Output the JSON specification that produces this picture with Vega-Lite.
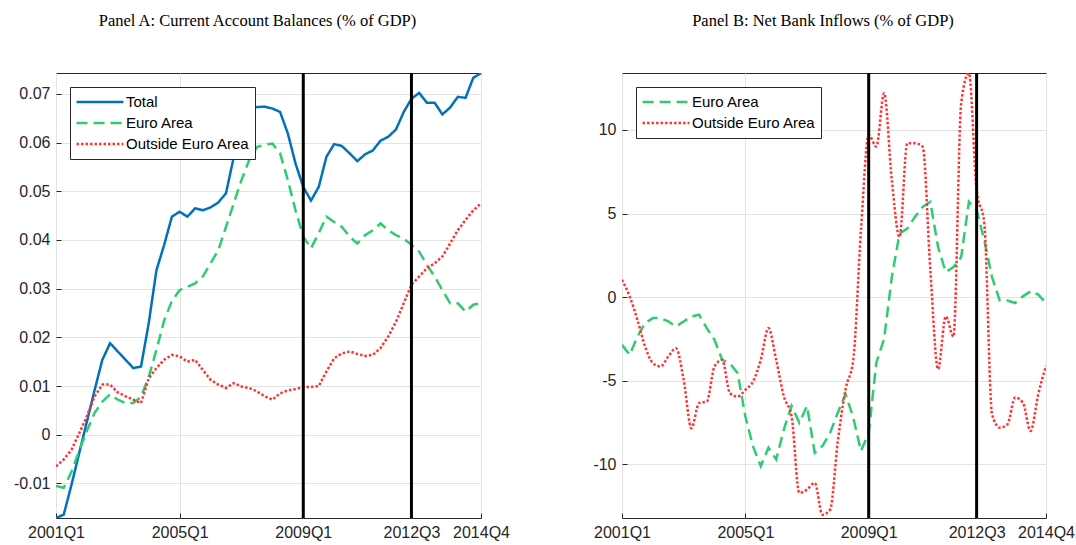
{
  "$schema": "https://vega.github.io/schema/vega-lite/v6.json",
  "background": "white",
  "padding": {"left": 13, "top": 12, "right": 0, "bottom": 5},
  "bounds": "flush",
  "spacing": 141,
  "config": {
    "view": {"stroke": "#262626", "strokeWidth": 1},
    "axis": {"labelFont": "Liberation Sans", "labelFontSize": 16, "labelColor": "#262626", "gridColor": "#e3e3e3", "gridWidth": 1, "domain": false, "ticks": true, "tickSize": -5, "tickColor": "#262626", "labelPadding": 11, "labelOverlap": false, "labelFlush": false, "title": null},
    "legend": {"title": null, "orient": "top-left", "offset": 14, "fillColor": "white", "strokeColor": "#262626", "padding": 5, "labelFont": "Liberation Sans", "labelFontSize": 15, "labelColor": "#000", "symbolType": "stroke", "symbolStrokeWidth": 2.5, "symbolSize": 2200, "clipHeight": 20, "labelOffset": 1, "rowPadding": 1},
    "title": {"font": "Liberation Serif", "fontSize": 16.5, "fontWeight": "normal", "color": "#000", "anchor": "middle", "offset": 42, "dx": -11}
  },
  "resolve": {"scale": {"color": "independent", "strokeDash": "independent", "y": "independent", "x": "independent"}, "legend": {"color": "independent", "strokeDash": "independent"}},
  "datasets": {
    "ca": [
      {"t": 0, "Total": -0.0171, "Euro Area": -0.0105, "Outside Euro Area": -0.0065},
      {"t": 1, "Total": -0.0164, "Euro Area": -0.0109, "Outside Euro Area": -0.0051},
      {"t": 2, "Total": -0.0103, "Euro Area": -0.0076, "Outside Euro Area": -0.0031},
      {"t": 3, "Total": -0.0038, "Euro Area": -0.0033, "Outside Euro Area": 0.0003},
      {"t": 4, "Total": 0.0027, "Euro Area": 0.0008, "Outside Euro Area": 0.0038},
      {"t": 5, "Total": 0.0092, "Euro Area": 0.0045, "Outside Euro Area": 0.0079},
      {"t": 6, "Total": 0.0154, "Euro Area": 0.0068, "Outside Euro Area": 0.0103},
      {"t": 7, "Total": 0.0188, "Euro Area": 0.0083, "Outside Euro Area": 0.0103},
      {"t": 8, "Total": 0.0171, "Euro Area": 0.0072, "Outside Euro Area": 0.0087},
      {"t": 9, "Total": 0.0154, "Euro Area": 0.0065, "Outside Euro Area": 0.0079},
      {"t": 10, "Total": 0.0137, "Euro Area": 0.0065, "Outside Euro Area": 0.0072},
      {"t": 11, "Total": 0.0140, "Euro Area": 0.0078, "Outside Euro Area": 0.0065},
      {"t": 12, "Total": 0.0229, "Euro Area": 0.0119, "Outside Euro Area": 0.0116},
      {"t": 13, "Total": 0.0338, "Euro Area": 0.0174, "Outside Euro Area": 0.0137},
      {"t": 14, "Total": 0.0390, "Euro Area": 0.0235, "Outside Euro Area": 0.0154},
      {"t": 15, "Total": 0.0448, "Euro Area": 0.0275, "Outside Euro Area": 0.0164},
      {"t": 16, "Total": 0.0458, "Euro Area": 0.0297, "Outside Euro Area": 0.0161},
      {"t": 17, "Total": 0.0448, "Euro Area": 0.0304, "Outside Euro Area": 0.0150},
      {"t": 18, "Total": 0.0465, "Euro Area": 0.0311, "Outside Euro Area": 0.0154},
      {"t": 19, "Total": 0.0461, "Euro Area": 0.0325, "Outside Euro Area": 0.0133},
      {"t": 20, "Total": 0.0467, "Euro Area": 0.0352, "Outside Euro Area": 0.0113},
      {"t": 21, "Total": 0.0477, "Euro Area": 0.0379, "Outside Euro Area": 0.0103},
      {"t": 22, "Total": 0.0496, "Euro Area": 0.0427, "Outside Euro Area": 0.0096},
      {"t": 23, "Total": 0.0570, "Euro Area": 0.0475, "Outside Euro Area": 0.0106},
      {"t": 24, "Total": 0.0635, "Euro Area": 0.0523, "Outside Euro Area": 0.0099},
      {"t": 25, "Total": 0.0668, "Euro Area": 0.0564, "Outside Euro Area": 0.0096},
      {"t": 26, "Total": 0.0673, "Euro Area": 0.0591, "Outside Euro Area": 0.0089},
      {"t": 27, "Total": 0.0674, "Euro Area": 0.0596, "Outside Euro Area": 0.0079},
      {"t": 28, "Total": 0.0670, "Euro Area": 0.0598, "Outside Euro Area": 0.0072},
      {"t": 29, "Total": 0.0663, "Euro Area": 0.0578, "Outside Euro Area": 0.0085},
      {"t": 30, "Total": 0.0619, "Euro Area": 0.0523, "Outside Euro Area": 0.0091},
      {"t": 31, "Total": 0.0557, "Euro Area": 0.0461, "Outside Euro Area": 0.0094},
      {"t": 32, "Total": 0.0509, "Euro Area": 0.0407, "Outside Euro Area": 0.0098},
      {"t": 33, "Total": 0.0481, "Euro Area": 0.0383, "Outside Euro Area": 0.0098},
      {"t": 34, "Total": 0.0509, "Euro Area": 0.0414, "Outside Euro Area": 0.0100},
      {"t": 35, "Total": 0.0571, "Euro Area": 0.0448, "Outside Euro Area": 0.0130},
      {"t": 36, "Total": 0.0597, "Euro Area": 0.0437, "Outside Euro Area": 0.0157},
      {"t": 37, "Total": 0.0593, "Euro Area": 0.0427, "Outside Euro Area": 0.0167},
      {"t": 38, "Total": 0.0578, "Euro Area": 0.0407, "Outside Euro Area": 0.0171},
      {"t": 39, "Total": 0.0562, "Euro Area": 0.0393, "Outside Euro Area": 0.0166},
      {"t": 40, "Total": 0.0576, "Euro Area": 0.0410, "Outside Euro Area": 0.0162},
      {"t": 41, "Total": 0.0584, "Euro Area": 0.0420, "Outside Euro Area": 0.0164},
      {"t": 42, "Total": 0.0604, "Euro Area": 0.0434, "Outside Euro Area": 0.0178},
      {"t": 43, "Total": 0.0612, "Euro Area": 0.0420, "Outside Euro Area": 0.0202},
      {"t": 44, "Total": 0.0627, "Euro Area": 0.0410, "Outside Euro Area": 0.0232},
      {"t": 45, "Total": 0.0663, "Euro Area": 0.0403, "Outside Euro Area": 0.0270},
      {"t": 46, "Total": 0.0690, "Euro Area": 0.0390, "Outside Euro Area": 0.0308},
      {"t": 47, "Total": 0.0702, "Euro Area": 0.0376, "Outside Euro Area": 0.0325},
      {"t": 48, "Total": 0.0682, "Euro Area": 0.0349, "Outside Euro Area": 0.0342},
      {"t": 49, "Total": 0.0682, "Euro Area": 0.0325, "Outside Euro Area": 0.0352},
      {"t": 50, "Total": 0.0658, "Euro Area": 0.0297, "Outside Euro Area": 0.0366},
      {"t": 51, "Total": 0.0672, "Euro Area": 0.0270, "Outside Euro Area": 0.0393},
      {"t": 52, "Total": 0.0694, "Euro Area": 0.0270, "Outside Euro Area": 0.0420},
      {"t": 53, "Total": 0.0692, "Euro Area": 0.0253, "Outside Euro Area": 0.0441},
      {"t": 54, "Total": 0.0733, "Euro Area": 0.0267, "Outside Euro Area": 0.0461},
      {"t": 55, "Total": 0.0743, "Euro Area": 0.0270, "Outside Euro Area": 0.0475}
    ],
    "bank": [
      {"t": 0, "Euro Area": -2.85, "Outside Euro Area": 1.04},
      {"t": 1, "Euro Area": -3.45, "Outside Euro Area": 0.04},
      {"t": 2, "Euro Area": -2.35, "Outside Euro Area": -1.35},
      {"t": 3, "Euro Area": -1.55, "Outside Euro Area": -2.95},
      {"t": 4, "Euro Area": -1.25, "Outside Euro Area": -3.94},
      {"t": 5, "Euro Area": -1.25, "Outside Euro Area": -4.14},
      {"t": 6, "Euro Area": -1.45, "Outside Euro Area": -3.55},
      {"t": 7, "Euro Area": -1.75, "Outside Euro Area": -3.05},
      {"t": 8, "Euro Area": -1.45, "Outside Euro Area": -4.94},
      {"t": 9, "Euro Area": -1.15, "Outside Euro Area": -7.83},
      {"t": 10, "Euro Area": -1.05, "Outside Euro Area": -6.33},
      {"t": 11, "Euro Area": -1.85, "Outside Euro Area": -6.24},
      {"t": 12, "Euro Area": -2.55, "Outside Euro Area": -4.14},
      {"t": 13, "Euro Area": -3.75, "Outside Euro Area": -3.75},
      {"t": 14, "Euro Area": -3.95, "Outside Euro Area": -5.74},
      {"t": 15, "Euro Area": -4.55, "Outside Euro Area": -5.94},
      {"t": 16, "Euro Area": -7.13, "Outside Euro Area": -5.54},
      {"t": 17, "Euro Area": -8.92, "Outside Euro Area": -5.04},
      {"t": 18, "Euro Area": -10.1, "Outside Euro Area": -3.75},
      {"t": 19, "Euro Area": -9.0, "Outside Euro Area": -1.85},
      {"t": 20, "Euro Area": -9.7, "Outside Euro Area": -3.75},
      {"t": 21, "Euro Area": -7.9, "Outside Euro Area": -5.94},
      {"t": 22, "Euro Area": -6.5, "Outside Euro Area": -7.13},
      {"t": 23, "Euro Area": -7.5, "Outside Euro Area": -11.7},
      {"t": 24, "Euro Area": -6.5, "Outside Euro Area": -11.5},
      {"t": 25, "Euro Area": -9.3, "Outside Euro Area": -11.1},
      {"t": 26, "Euro Area": -8.9, "Outside Euro Area": -13.0},
      {"t": 27, "Euro Area": -8.1, "Outside Euro Area": -12.7},
      {"t": 28, "Euro Area": -6.9, "Outside Euro Area": -8.6},
      {"t": 29, "Euro Area": -5.8, "Outside Euro Area": -5.5},
      {"t": 30, "Euro Area": -7.2, "Outside Euro Area": -3.75},
      {"t": 31, "Euro Area": -9.2, "Outside Euro Area": 4.0},
      {"t": 32, "Euro Area": -8.1, "Outside Euro Area": 9.7},
      {"t": 33, "Euro Area": -3.9, "Outside Euro Area": 9.0},
      {"t": 34, "Euro Area": -2.5, "Outside Euro Area": 12.2},
      {"t": 35, "Euro Area": 1.2, "Outside Euro Area": 7.0},
      {"t": 36, "Euro Area": 3.8, "Outside Euro Area": 3.6},
      {"t": 37, "Euro Area": 4.1, "Outside Euro Area": 9.2},
      {"t": 38, "Euro Area": 4.8, "Outside Euro Area": 9.2},
      {"t": 39, "Euro Area": 5.4, "Outside Euro Area": 9.0},
      {"t": 40, "Euro Area": 5.7, "Outside Euro Area": 1.6},
      {"t": 41, "Euro Area": 3.0, "Outside Euro Area": -4.3},
      {"t": 42, "Euro Area": 1.5, "Outside Euro Area": -1.15},
      {"t": 43, "Euro Area": 1.8, "Outside Euro Area": -2.35},
      {"t": 44, "Euro Area": 2.4, "Outside Euro Area": 11.6},
      {"t": 45, "Euro Area": 5.7, "Outside Euro Area": 13.4},
      {"t": 46, "Euro Area": 5.2, "Outside Euro Area": 6.4},
      {"t": 47, "Euro Area": 3.4, "Outside Euro Area": 4.4},
      {"t": 48, "Euro Area": 1.2, "Outside Euro Area": -7.0},
      {"t": 49, "Euro Area": -0.2, "Outside Euro Area": -7.8},
      {"t": 50, "Euro Area": -0.2, "Outside Euro Area": -7.6},
      {"t": 51, "Euro Area": -0.35, "Outside Euro Area": -6.0},
      {"t": 52, "Euro Area": 0.05, "Outside Euro Area": -6.3},
      {"t": 53, "Euro Area": 0.35, "Outside Euro Area": -8.0},
      {"t": 54, "Euro Area": 0.15, "Outside Euro Area": -5.8},
      {"t": 55, "Euro Area": -0.35, "Outside Euro Area": -4.1}
    ],
    "events": [{"t": 32}, {"t": 46}]
  },
  "hconcat": [
    {
      "width": 425,
      "height": 445,
      "title": {"text": "Panel A: Current Account Balances (% of GDP)"},
      "encoding": {
        "x": {"field": "t", "type": "quantitative", "scale": {"domain": [0, 55], "nice": false, "zero": false},
              "axis": {"values": [0, 16, 32, 46, 55], "labelExpr": "(floor(datum.value/4)+2001) + 'Q' + (datum.value%4+1)"}}
      },
      "layer": [
        {
          "data": {"name": "ca"},
          "transform": [{"fold": ["Total", "Euro Area", "Outside Euro Area"], "as": ["series", "value"]}],
          "mark": {"type": "line", "strokeWidth": 2.5, "clip": true},
          "encoding": {
            "y": {"field": "value", "type": "quantitative", "scale": {"domain": [-0.0171, 0.0743], "nice": false, "zero": false},
                  "axis": {"values": [-0.01, 0, 0.01, 0.02, 0.03, 0.04, 0.05, 0.06, 0.07], "labelExpr": "'' + datum.value"}},
            "color": {"field": "series", "type": "nominal", "scale": {"domain": ["Total", "Euro Area", "Outside Euro Area"], "range": ["#0072BD", "#2ECC71", "#FF3333"]}},
            "strokeDash": {"field": "series", "type": "nominal", "scale": {"domain": ["Total", "Euro Area", "Outside Euro Area"], "range": [[1, 0], [11, 6], [2.5, 2]]}}
          }
        },
        {
          "data": {"name": "events"},
          "mark": {"type": "rule", "color": "black", "strokeWidth": 3},
          "encoding": {}
        }
      ]
    },
    {
      "width": 424,
      "height": 445,
      "title": {"text": "Panel B: Net Bank Inflows (% of GDP)"},
      "encoding": {
        "x": {"field": "t", "type": "quantitative", "scale": {"domain": [0, 55], "nice": false, "zero": false},
              "axis": {"values": [0, 16, 32, 46, 55], "labelExpr": "(floor(datum.value/4)+2001) + 'Q' + (datum.value%4+1)"}}
      },
      "layer": [
        {
          "data": {"name": "bank"},
          "transform": [{"fold": ["Euro Area"], "as": ["series", "value"]}],
          "mark": {"type": "line", "strokeWidth": 2.5, "clip": true},
          "encoding": {
            "y": {"field": "value", "type": "quantitative", "scale": {"domain": [-13.2, 13.4], "nice": false, "zero": false},
                  "axis": {"values": [-10, -5, 0, 5, 10], "labelExpr": "'' + datum.value"}},
            "color": {"field": "series", "type": "nominal", "scale": {"domain": ["Euro Area", "Outside Euro Area"], "range": ["#2ECC71", "#FF3333"]}},
            "strokeDash": {"field": "series", "type": "nominal", "scale": {"domain": ["Euro Area", "Outside Euro Area"], "range": [[11, 6], [2.5, 2]]}}
          }
        },
        {
          "data": {"name": "bank"},
          "transform": [{"fold": ["Outside Euro Area"], "as": ["series", "value"]}],
          "mark": {"type": "line", "strokeWidth": 2.5, "clip": true, "interpolate": "monotone"},
          "encoding": {
            "y": {"field": "value", "type": "quantitative"},
            "color": {"field": "series", "type": "nominal"},
            "strokeDash": {"field": "series", "type": "nominal"}
          }
        },
        {
          "data": {"name": "events"},
          "mark": {"type": "rule", "color": "black", "strokeWidth": 3},
          "encoding": {}
        }
      ]
    }
  ]
}
